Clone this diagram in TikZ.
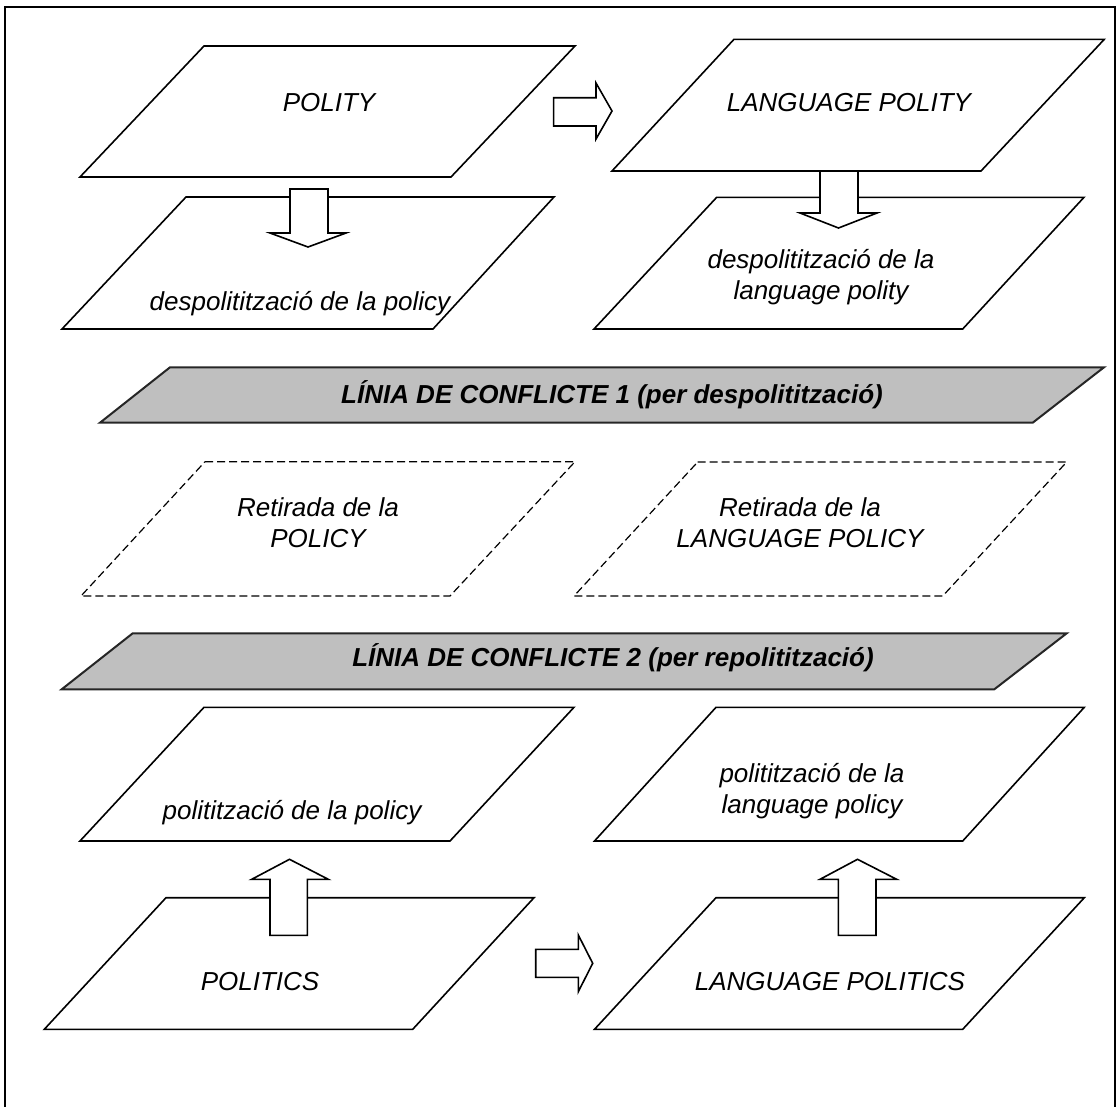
\documentclass[tikz,border=0pt]{standalone}
\usepackage{fontspec}
\setmainfont{Liberation Sans}
\begin{document}
\begin{tikzpicture}[x=1pt,y=-1pt,
  para/.style={draw=black, fill=white, line width=1.6pt, line join=miter},
  dpara/.style={draw=black, line width=1.2pt, dash pattern=on 8pt off 4pt},
  band/.style={draw=black!85, fill=black!25, line width=2pt},
  blockarrow/.style={draw=black, fill=white, line width=1.6pt, line join=miter},
  lbl/.style={font=\fontsize{26}{31}\selectfont\itshape, anchor=base, align=center, inner sep=0pt},
  blbl/.style={font=\fontsize{26}{31}\selectfont\bfseries\itshape, anchor=base, inner sep=0pt},
  frame/.style={draw=black, line width=2pt}]
\useasboundingbox (0,0) rectangle (1116,1106);
\begin{scope}
\clip (0,0) rectangle (1116,1106);
\draw[frame] (5,1120) -- (5,7) -- (1114.5,7) -- (1114.5,1120);
\end{scope}

% top row
\draw[para] (204,46) -- (575,46) -- (451,177) -- (80,177) -- cycle;
\node[lbl] (polity) at (329,111) {POLITY};
\draw[para] (734,39.3) -- (1104.3,39.3) -- (981,171) -- (612,171) -- cycle;
\node[lbl] (lpolity) at (849,111) {LANGUAGE POLITY};

\draw[para] (186,197) -- (554,197) -- (433,329) -- (62,329) -- cycle;
\node[lbl] (despolicy) at (300,310.5) {despolitització de la policy};
\draw[para] (716.7,197.3) -- (1084,197.3) -- (962.7,329) -- (594,329) -- cycle;
\node[lbl] (despolity) at (821,299) {despolitització de la\\language polity};

% band 1
\draw[band] (170,367.3) -- (1104,367.3) -- (1032.7,422.7) -- (100,422.7) -- cycle;
\node[blbl] (conf1) at (612,403.3) {LÍNIA DE CONFLICTE 1 (per despolitització)};

% dashed
\draw[dpara] (205,461.7) -- (575,461.7) -- (450,596) -- (81,596) -- cycle;
\node[lbl] (retpol) at (318,547.7) {Retirada de la\\POLICY};
\draw[dpara] (697.7,462) -- (1066.7,462) -- (942.7,596) -- (574,596) -- cycle;
\node[lbl] (retlpol) at (800,547.7) {Retirada de la\\LANGUAGE POLICY};

% band 2
\draw[band] (132.7,633.3) -- (1066.7,633.3) -- (994.3,689.3) -- (61.7,689.3) -- cycle;
\node[blbl] (conf2) at (613,666.7) {LÍNIA DE CONFLICTE 2 (per repolitització)};

% lower rows
\draw[para] (204,707.3) -- (574,707.3) -- (450,841) -- (80,841) -- cycle;
\node[lbl] (polpolicy) at (292,819.3) {politització de la policy};
\draw[para] (716,707.3) -- (1084.3,707.3) -- (962.7,841) -- (594.5,841) -- cycle;
\node[lbl] (pollpolicy) at (812,813.3) {politització de la\\language policy};

\draw[para] (166,897.7) -- (534,897.7) -- (412.7,1029.3) -- (44.3,1029.3) -- cycle;
\node[lbl] (politics) at (260,990) {POLITICS};
\draw[para] (716,897.7) -- (1084.3,897.7) -- (962.7,1029.3) -- (594.5,1029.3) -- cycle;
\node[lbl] (lpolitics) at (830,990) {LANGUAGE POLITICS};

% block arrows
\draw[blockarrow] (553.6,97.7) -- (596,97.7) -- (596,83) -- (612,111) -- (596,139) -- (596,126) -- (553.6,126) -- cycle;
\draw[blockarrow] (290,189) -- (328,189) -- (328,233) -- (346,233) -- (308,247) -- (270,233) -- (290,233) -- cycle;
\draw[blockarrow] (820,171) -- (858,171) -- (858,213) -- (877,213) -- (838.5,228) -- (800,213) -- (820,213) -- cycle;
\draw[blockarrow] (270,935.3) -- (307.3,935.3) -- (307.3,879.3) -- (328.3,879.3) -- (289.5,859.3) -- (251.7,879.3) -- (270,879.3) -- cycle;
\draw[blockarrow] (838.3,935.3) -- (876,935.3) -- (876,879.3) -- (896.7,879.3) -- (857.5,859.3) -- (820,879.3) -- (838.3,879.3) -- cycle;
\draw[blockarrow] (535.7,949.3) -- (578.3,949.3) -- (578.3,935) -- (592.7,963.3) -- (578.3,991.7) -- (578.3,977.3) -- (535.7,977.3) -- cycle;
\end{tikzpicture}
\end{document}
